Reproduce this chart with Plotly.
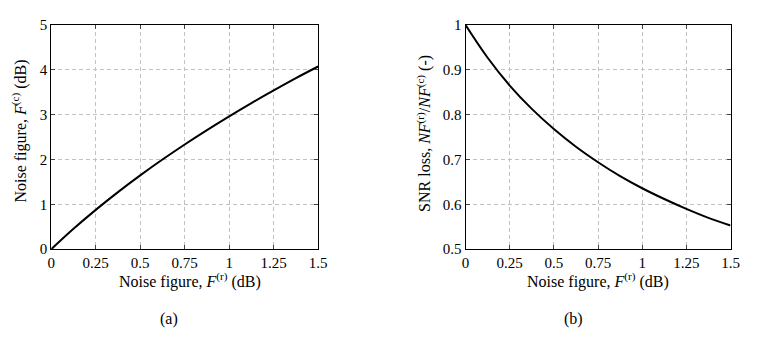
import plotly.graph_objects as go

# Data
f_r_db = [0, 0.125, 0.25, 0.375, 0.5, 0.625, 0.75, 0.875, 1.0, 1.125, 1.25, 1.375, 1.5]
f_c_db = [0, 0.455, 0.878, 1.274, 1.647, 2.000, 2.336, 2.657, 2.964, 3.259, 3.542, 3.816, 4.075]
snr_loss = [1.0, 0.927, 0.865, 0.813, 0.768, 0.7285, 0.694, 0.663, 0.636, 0.612, 0.590, 0.570, 0.553]

x_ticks = [0, 0.25, 0.5, 0.75, 1, 1.25, 1.5]
x_ticklabels = ["0", "0.25", "0.5", "0.75", "1", "1.25", "1.5"]
y1_ticks = [0, 1, 2, 3, 4, 5]
y2_ticks = [0.5, 0.6, 0.7, 0.8, 0.9, 1.0]
y2_ticklabels = ["0.5", "0.6", "0.7", "0.8", "0.9", "1"]

W, H = 757, 339
FONT = "Liberation Serif"

# pixel -> paper helpers (calibrated to the rendered page)
def px(x):
    return (x - 10.6) / 747.0

def py(y):
    return (340.5 - y) / 325.6

fig = go.Figure()
fig.add_trace(go.Scatter(x=f_r_db, y=f_c_db, mode="lines", line=dict(color="black", width=2, shape="spline"),
                         xaxis="x", yaxis="y", showlegend=False))
fig.add_trace(go.Scatter(x=f_r_db, y=snr_loss, mode="lines", line=dict(color="black", width=2, shape="spline"),
                         xaxis="x2", yaxis="y2", showlegend=False))

ax_common = dict(showline=True, linecolor="black", linewidth=1, mirror="ticks", ticks="inside",
                 ticklen=4, tickcolor="#444", showgrid=True, gridcolor="#c2c2c2", griddash="4px,3px",
                 gridwidth=1, zeroline=False, tickfont=dict(family=FONT, size=15, color="black"))

yb, yt = py(250), py(24)
fig.update_layout(
    width=W, height=H, margin=dict(l=0, r=0, t=0, b=0),
    paper_bgcolor="white", plot_bgcolor="white",
    xaxis=dict(domain=[px(50), px(318)], range=[0, 1.5], tickvals=x_ticks, ticktext=x_ticklabels,
               anchor="y", **ax_common),
    yaxis=dict(domain=[yb, yt], range=[0, 5], tickvals=y1_ticks, anchor="x", **ax_common),
    xaxis2=dict(domain=[px(466), px(732)], range=[0, 1.5], tickvals=x_ticks, ticktext=x_ticklabels,
                anchor="y2", **ax_common),
    yaxis2=dict(domain=[yb, yt], range=[0.5, 1.0], tickvals=y2_ticks, ticktext=y2_ticklabels,
                anchor="x2", **ax_common),
)

tf = dict(family=FONT, size=16, color="black")
ann = [
    dict(x=px(189), y=py(282), text="Noise figure, <i>F</i><sup>(r)</sup> (dB)"),
    dict(x=px(599), y=py(282), text="Noise figure, <i>F</i><sup>(r)</sup> (dB)"),
    dict(x=px(18), y=py(131), text="Noise figure, <i>F</i><sup>(c)</sup> (dB)", textangle=-90),
    dict(x=px(424), y=py(133),
         text="SNR loss, <i>NF</i><sup>(r)</sup>/<i>NF</i><sup>(c)</sup> (-)", textangle=-90),
    dict(x=px(168), y=py(320), text="(a)"),
    dict(x=px(574), y=py(320), text="(b)"),
]
for a in ann:
    fig.add_annotation(xref="paper", yref="paper", showarrow=False, xanchor="center", yanchor="middle",
                       font=tf, **a)

fig.write_html("out.html")
